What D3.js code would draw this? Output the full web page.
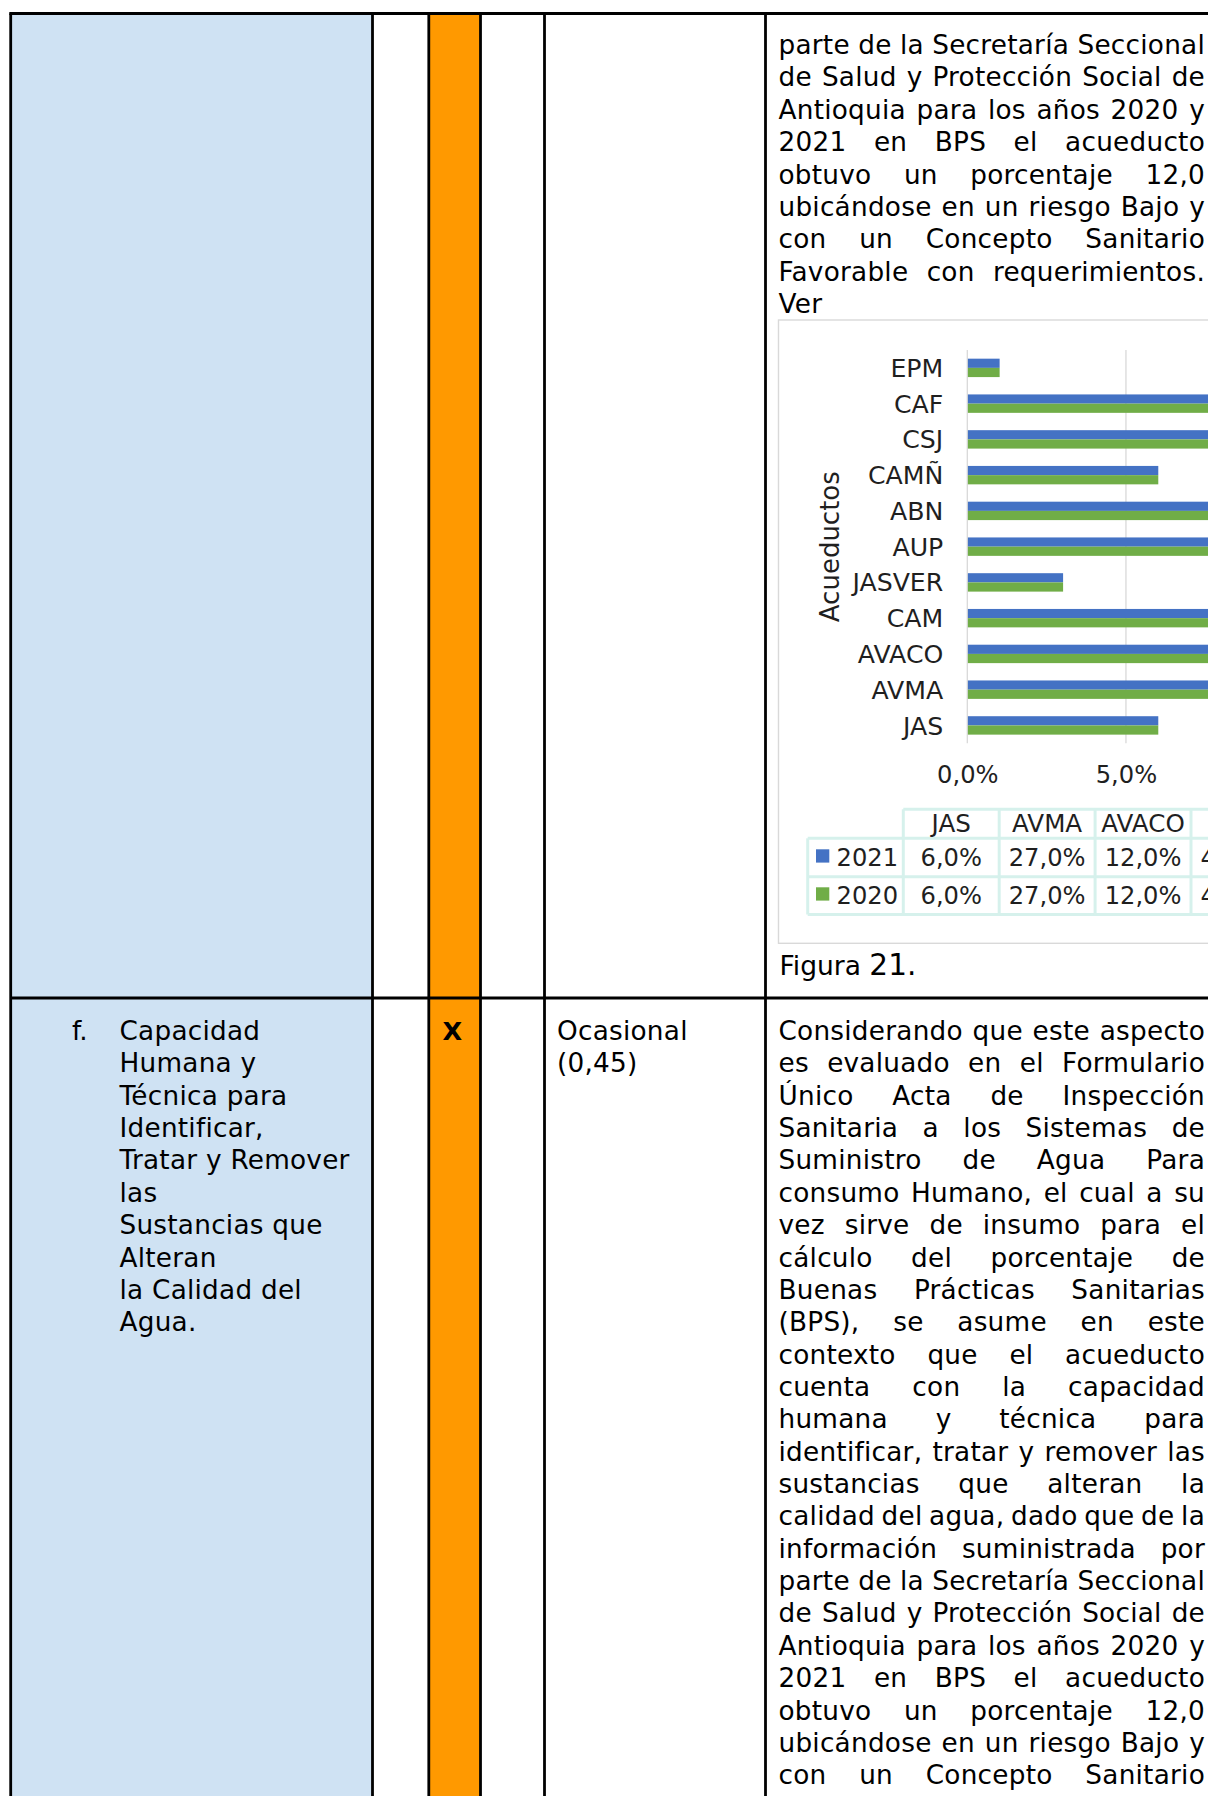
<!DOCTYPE html>
<html><head><meta charset="utf-8">
<script src="https://cdn.jsdelivr.net/npm/d3@7"></script>
<style>
html,body{margin:0;padding:0;background:#fff;overflow:hidden;}
svg{display:block;}
text{font-family:"DejaVu Sans",Verdana,sans-serif;}
</style></head><body>
<svg id="page" width="1208" height="1796"></svg>
<script>
// ---------- DATA ----------
const categories = ["JAS","AVMA","AVACO","CAM","JASVER","AUP","ABN","CAMÑ","CSJ","CAF","EPM"];
const values2021 = [6,27,12,45,3,15,27,6,12,10,1];
const values2020 = [6,27,12,45,3,15,27,6,12,10,1];
const seriesNames = ["2021","2020"];
const seriesColors = ["#4472C4","#70AD47"];
const xTicks = [0,5,10,15,20,25,30,35,40,45];
const axisTitle = "Acueductos";

const row1Text = [
  "parte de la Secretaría Seccional",
  "de Salud y Protección Social de",
  "Antioquia para los años 2020 y",
  "2021 en BPS el acueducto",
  "obtuvo un porcentaje 12,0",
  "ubicándose en un riesgo Bajo y",
  "con un Concepto Sanitario",
  "Favorable con requerimientos.",
  "Ver"
];
const row2Text = [
  "Considerando que este aspecto",
  "es evaluado en el Formulario",
  "Único Acta de Inspección",
  "Sanitaria a los Sistemas de",
  "Suministro de Agua Para",
  "consumo Humano, el cual a su",
  "vez sirve de insumo para el",
  "cálculo del porcentaje de",
  "Buenas Prácticas Sanitarias",
  "(BPS), se asume en este",
  "contexto que el acueducto",
  "cuenta con la capacidad",
  "humana y técnica para",
  "identificar, tratar y remover las",
  "sustancias que alteran la",
  "calidad del agua, dado que de la",
  "información suministrada por",
  "parte de la Secretaría Seccional",
  "de Salud y Protección Social de",
  "Antioquia para los años 2020 y",
  "2021 en BPS el acueducto",
  "obtuvo un porcentaje 12,0",
  "ubicándose en un riesgo Bajo y",
  "con un Concepto Sanitario"
];
const itemLabel = "f.";
const itemText = ["Capacidad","Humana y","Técnica para","Identificar,","Tratar y Remover","las","Sustancias que","Alteran","la Calidad del","Agua."];
const markText = "X";
const freqText = ["Ocasional","(0,45)"];
const captionWord = "Figura";
const captionNum = "21.";

// ---------- LAYOUT ----------
const svg = d3.select("#page");
const FONT = "DejaVu Sans";
const bodySize = 26.3;
const bodyLS = 0.25;
const colLines = [10.7, 372.5, 428.8, 480.5, 544.5, 765.5];
const topY = 13.5, rowY = 998, bw = 2.8;

// fills
svg.append("rect").attr("x",colLines[0]).attr("y",topY).attr("width",colLines[1]-colLines[0]).attr("height",1900).attr("fill","#CFE2F3");
svg.append("rect").attr("x",colLines[2]).attr("y",topY).attr("width",colLines[3]-colLines[2]).attr("height",1900).attr("fill","#FF9900");

// measuring helper
const meas = svg.append("text").attr("x",-1000).attr("y",-1000);
function wWidth(s,size,ls){ meas.attr("font-size",size).attr("letter-spacing",ls).text(s); return meas.node().getComputedTextLength(); }

function drawLine(str, x, y, width, justify, size){
  size = size || bodySize;
  const t = svg.append("text").attr("font-size",size).attr("letter-spacing",bodyLS).attr("y",y).attr("fill","#000");
  const words = str.split(" ");
  if(!justify || words.length===1){
    t.attr("x",x).text(str);
    return;
  }
  const ws = words.map(w=>wWidth(w,size,bodyLS));
  const total = d3.sum(ws);
  const gap = (width-total)/(words.length-1);
  let cx = x;
  words.forEach((w,i)=>{
    t.append("tspan").attr("x",cx).text(w);
    cx += ws[i]+gap;
  });
}

// row 1 paragraph (col 6)
const textX = 778.5, textW = 426.5;
row1Text.forEach((s,i)=>drawLine(s, textX, 53.7+i*32.45, textW, i<row1Text.length-1));

// row 2
const r2base = 1040, r2lh = 32.36;
row2Text.forEach((s,i)=>drawLine(s, textX, r2base+i*r2lh, textW, true));
svg.append("text").attr("x",72).attr("y",r2base).attr("font-size",bodySize).text(itemLabel);
itemText.forEach((s,i)=>drawLine(s, 119.5, r2base+i*r2lh, 0, false));
svg.append("text").attr("x",442.5).attr("y",r2base).attr("font-size",25.5).attr("font-weight","bold").text(markText);
freqText.forEach((s,i)=>drawLine(s, 557, r2base+i*r2lh, 0, false));

// ---------- CHART ----------
const chart = svg.append("g");
chart.append("rect").attr("x",778.5).attr("y",320).attr("width",800).attr("height",623.3)
  .attr("fill","#fff").attr("stroke","#D9D9D9").attr("stroke-width",1.4);

const x0 = 967.3, pxPerPct = 31.73;
const x = d3.scaleLinear().domain([0,45]).range([x0, x0+45*pxPerPct]);
const plotTop = 350, plotBot = 743.3;
const y = d3.scaleBand().domain(categories).range([plotBot, plotTop]).paddingInner(0.485).paddingOuter(0.2425);
const ys = d3.scaleBand().domain(seriesNames).range([0, y.bandwidth()]);

// gridlines
chart.append("g").selectAll("line").data(xTicks).join("line")
  .attr("x1",d=>x(d)).attr("x2",d=>x(d)).attr("y1",plotTop).attr("y2",plotBot)
  .attr("stroke","#D9D9D9").attr("stroke-width",1.3);

// bars
const seriesData = [values2021, values2020];
seriesNames.forEach((s,si)=>{
  chart.append("g").selectAll("rect").data(categories).join("rect")
    .attr("x",x(0)+0.6)
    .attr("y",(d)=>y(d)+ys(s))
    .attr("width",(d,i)=>x(seriesData[si][i])-x(0))
    .attr("height",ys.bandwidth())
    .attr("fill",seriesColors[si]);
});

const chartText = "#1f1f1f";
const numSize = 24.2, labSize = 25.2;
// category axis
const yAxis = chart.append("g").attr("transform",`translate(${x0},0)`)
  .call(d3.axisLeft(y).tickSize(0).tickPadding(24));
yAxis.select(".domain").remove();
yAxis.selectAll("text").attr("font-family",FONT).attr("font-size",labSize).attr("fill",chartText).attr("dy","0.36em");

// value axis labels
const fmt = d => d.toFixed(1).replace(".",",")+"%";
const xAxis = chart.append("g").attr("transform",`translate(0,${plotBot})`)
  .call(d3.axisBottom(x).tickValues(xTicks).tickSize(0).tickFormat(fmt));
xAxis.select(".domain").remove();
xAxis.selectAll("text").attr("font-family",FONT).attr("font-size",numSize).attr("fill",chartText).attr("y",40).attr("dy",0);

// axis title
chart.append("text").attr("transform","translate(839,546.7) rotate(-90)")
  .attr("text-anchor","middle").attr("font-size",26).attr("fill",chartText).text(axisTitle);

// data table
const tX0 = 903.3, colW = 95.9, legX = 807.7;
const rowYs = [809.3, 838.3, 876.7, 914.5];
const tColor = "#D6F1EC", tW = 3;
const tg = chart.append("g");
tg.append("line").attr("x1",tX0).attr("x2",tX0+categories.length*colW).attr("y1",rowYs[0]).attr("y2",rowYs[0]);
[1,2,3].forEach(k=>tg.append("line").attr("x1",legX).attr("x2",tX0+categories.length*colW).attr("y1",rowYs[k]).attr("y2",rowYs[k]));
tg.append("line").attr("x1",legX).attr("x2",legX).attr("y1",rowYs[1]).attr("y2",rowYs[3]);
d3.range(categories.length+1).forEach(i=>tg.append("line").attr("x1",tX0+i*colW).attr("x2",tX0+i*colW).attr("y1",rowYs[0]).attr("y2",rowYs[3]));
tg.selectAll("line").attr("stroke",tColor).attr("stroke-width",tW);

tg.append("g").selectAll("text").data(categories).join("text")
  .attr("x",(d,i)=>tX0+i*colW+colW/2).attr("y",831.7).attr("text-anchor","middle")
  .attr("font-size",24.6).attr("fill",chartText).text(d=>d);
const rowBase = [866, 904];
seriesNames.forEach((s,si)=>{
  tg.append("g").selectAll("text").data(seriesData[si]).join("text")
    .attr("x",(d,i)=>tX0+i*colW+colW/2).attr("y",rowBase[si]).attr("text-anchor","middle")
    .attr("font-size",numSize).attr("fill",chartText).text(d=>fmt(d));
  tg.append("rect").attr("x",816).attr("y",rowBase[si]-16.7).attr("width",13.3).attr("height",13.3).attr("fill",seriesColors[si]);
  tg.append("text").attr("x",836.5).attr("y",rowBase[si]).attr("font-size",numSize).attr("fill",chartText).text(s);
});

// caption
const cap = svg.append("text").attr("x",779.5).attr("y",975).attr("fill","#000");
cap.append("tspan").attr("font-size",26.5).text(captionWord+" ");
cap.append("tspan").attr("font-size",29.5).text(captionNum);

// ---------- BORDERS ----------
const bg = svg.append("g").attr("stroke","#000").attr("stroke-width",bw);
bg.append("line").attr("x1",colLines[0]-bw/2).attr("x2",1300).attr("y1",topY).attr("y2",topY).attr("stroke-width",3);
bg.append("line").attr("x1",colLines[0]).attr("x2",1300).attr("y1",rowY).attr("y2",rowY);
colLines.forEach(cx=>bg.append("line").attr("x1",cx).attr("x2",cx).attr("y1",topY).attr("y2",1900));
meas.remove();
</script>
</body></html>
